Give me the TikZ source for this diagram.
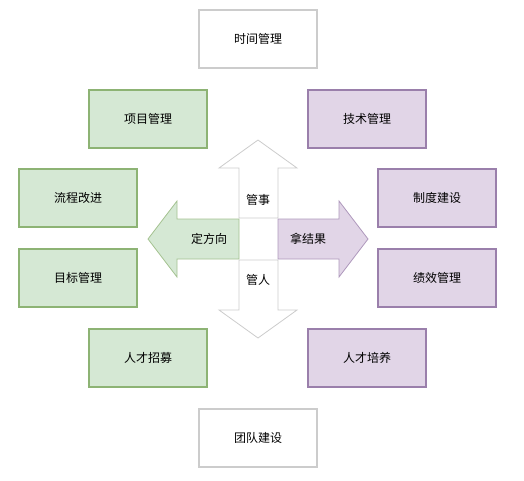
\documentclass[tikz,border=0pt]{standalone}
\usepackage{fontspec}
\setmainfont{Noto Sans CJK SC}

\definecolor{gfill}{HTML}{D5E8D4}
\definecolor{gline}{HTML}{8DB374}
\definecolor{pfill}{HTML}{E1D5E7}
\definecolor{pline}{HTML}{9A7FAB}
\definecolor{wline}{HTML}{CCCCCC}

\tikzset{
  box/.style={rectangle, minimum width=118pt, minimum height=58pt,
    line width=1.6pt, font=\fontsize{12pt}{14pt}\selectfont},
  whitebox/.style={box, draw=wline, fill=white},
  greenbox/.style={box, draw=gline, fill=gfill},
  purplebox/.style={box, draw=pline, fill=pfill},
  arrowlabel/.style={font=\fontsize{12pt}{14pt}\selectfont}
}

\begin{document}
\begin{tikzpicture}[x=1pt,y=-1pt]
  \useasboundingbox (0,0) rectangle (524,480);

  % top and bottom
  \node[whitebox] (time) at (258,39) {时间管理};
  \node[whitebox] (team) at (258,438) {团队建设};

  % left side
  \node[greenbox] (project) at (148,119) {项目管理};
  \node[greenbox] (process) at (78,198) {流程改进};
  \node[greenbox] (goal) at (78,278) {目标管理};
  \node[greenbox] (hire) at (148,358) {人才招募};

  % right side
  \node[purplebox] (tech) at (367,119) {技术管理};
  \node[purplebox] (rules) at (437,198) {制度建设};
  \node[purplebox] (perf) at (437,278) {绩效管理};
  \node[purplebox] (train) at (367,358) {人才培养};

  % up arrow
  \draw[wline, fill=white, line width=0.8pt]
    (239,218) -- (239,168) -- (219,168) -- (258,140) -- (297,168)
    -- (278,168) -- (278,218) -- cycle;
  % down arrow
  \draw[wline, fill=white, line width=0.8pt]
    (239,260) -- (239,310) -- (219,310) -- (258,338) -- (297,310)
    -- (278,310) -- (278,260) -- cycle;
  % left arrow
  \draw[gline!80, fill=gfill, line width=0.8pt]
    (239,219) -- (177,219) -- (177,201) -- (148,239) -- (177,277)
    -- (177,259) -- (239,259) -- cycle;
  % right arrow
  \draw[pline!80, fill=pfill, line width=0.8pt]
    (278,219) -- (339,219) -- (339,201) -- (368,239) -- (339,277)
    -- (339,259) -- (278,259) -- cycle;

  \node[arrowlabel] (things) at (258,200) {管事};
  \node[arrowlabel] (people) at (258,280) {管人};
  \node[arrowlabel] (direction) at (209,239) {定方向};
  \node[arrowlabel] (result) at (308,239) {拿结果};
\end{tikzpicture}
\end{document}
